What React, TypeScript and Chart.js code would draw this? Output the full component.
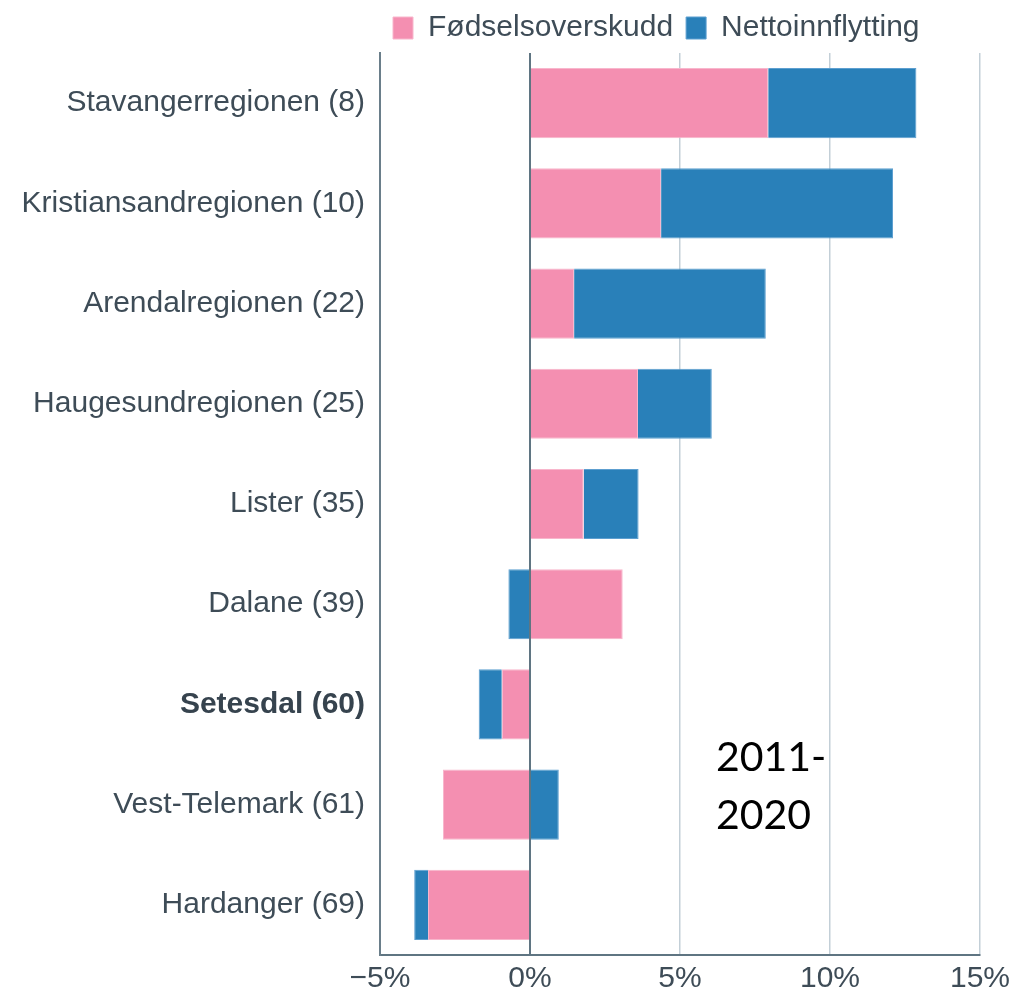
import React, { useEffect, useRef } from 'react';
import { Chart, registerables } from 'chart.js';

Chart.register(...registerables);

const categories = [
  'Stavangerregionen (8)',
  'Kristiansandregionen (10)',
  'Arendalregionen (22)',
  'Haugesundregionen (25)',
  'Lister (35)',
  'Dalane (39)',
  'Setesdal (60)',
  'Vest-Telemark (61)',
  'Hardanger (69)',
];
const fodselsoverskudd = [7.94, 4.37, 1.47, 3.6, 1.79, 3.09, -0.94, -2.9, -3.4];
const nettoinnflytting = [4.94, 7.73, 6.39, 2.46, 1.83, -0.72, -0.77, 0.96, -0.46];
const seriesNames = ['Fødselsoverskudd', 'Nettoinnflytting'];
const xTickValues = [-5, 0, 5, 10, 15];
const highlightedCategory = 'Setesdal (60)';
const annotationLines = ['2011-', '2020'];
const annotationX = 6.2;
const annotationY = [6.66, 7.24];

const PINK = '#F48FB1';
const BLUE = '#2980B9';
const TEXT = '#3e4c57';
const FONT = '"Liberation Sans", Arial, sans-serif';

const zeroLineAndAnnotation = {
  id: 'zeroLineAndAnnotation',
  afterDatasetsDraw(chart: any) {
    const { ctx, chartArea, scales } = chart;
    const x = scales.x;
    const y = scales.y;
    const zx = x.getPixelForValue(0);
    ctx.save();
    ctx.strokeStyle = '#5f7582';
    ctx.lineWidth = 2;
    ctx.beginPath();
    ctx.moveTo(zx, chartArea.top);
    ctx.lineTo(zx, chartArea.bottom);
    ctx.stroke();

    ctx.fillStyle = '#000';
    ctx.font = '41px Lato, "Open Sans", sans-serif';
    ctx.textAlign = 'left';
    ctx.textBaseline = 'alphabetic';
    const ax = x.getPixelForValue(annotationX);
    annotationLines.forEach((line, i) => {
      ctx.fillText(line, ax, y.getPixelForValue(annotationY[i]));
    });
    ctx.restore();
  },
};

export default function App() {
  const canvasRef = useRef<HTMLCanvasElement | null>(null);

  useEffect(() => {
    if (!canvasRef.current) return;
    Chart.defaults.font.family = FONT;
    const chart = new Chart(canvasRef.current, {
      type: 'bar',
      data: {
        labels: categories,
        datasets: [
          {
            label: seriesNames[0],
            data: fodselsoverskudd,
            backgroundColor: PINK,
            borderColor: '#f8b6cc',
            borderWidth: 1,
            barPercentage: 0.7,
            categoryPercentage: 1,
          },
          {
            label: seriesNames[1],
            data: nettoinnflytting,
            backgroundColor: BLUE,
            borderColor: '#5d9fd0',
            borderWidth: 1,
            barPercentage: 0.7,
            categoryPercentage: 1,
          },
        ],
      },
      options: {
        indexAxis: 'y',
        animation: false,
        responsive: true,
        maintainAspectRatio: false,
        layout: { padding: { left: 0, right: 37, top: 0, bottom: 0 } },
        plugins: {
          tooltip: { enabled: false },
          legend: {
            display: true,
            position: 'top',
            align: 'start',
            fullSize: false,
            labels: {
              boxWidth: 20,
              boxHeight: 22,
              padding: 13,
              color: TEXT,
              font: { size: 30, family: FONT },
            },
          },
        },
        scales: {
          x: {
            stacked: true,
            min: -5,
            max: 15,
            afterBuildTicks: (scale: any) => {
              scale.ticks = xTickValues.map((v) => ({ value: v }));
            },
            afterFit: (scale: any) => {
              scale.height = 39;
            },
            ticks: {
              color: TEXT,
              font: { size: 30, family: FONT },
              padding: 6,
              maxRotation: 0,
              callback: (v: any) => (Number(v) < 0 ? '\u2212' : '') + Math.abs(Number(v)) + '%',
            },
            grid: {
              drawTicks: false,
              color: (ctx: any) => {
                const v = ctx.tick ? ctx.tick.value : null;
                if (v === -5) return 'rgba(0,0,0,0)';
                if (v === 0) return '#5f7582';
                return '#c3cfd7';
              },
              lineWidth: (ctx: any) => (ctx.tick && ctx.tick.value === 0 ? 2 : 1.5),
            },
            border: { display: true, color: '#5f7582', width: 2 },
          },
          y: {
            stacked: true,
            afterFit: (scale: any) => {
              scale.width = 380;
            },
            ticks: {
              padding: 15,
              color: (ctx: any) => (categories[ctx.index] === highlightedCategory ? '#36434e' : TEXT),
              font: (ctx: any) => ({
                size: 30,
                family: FONT,
                weight: categories[ctx.index] === highlightedCategory ? 'bold' : 'normal',
              }),
            },
            grid: { display: false, drawTicks: false },
            border: { display: true, color: '#6a7e8a', width: 2 },
          },
        },
      },
      plugins: [zeroLineAndAnnotation],
    });
    return () => chart.destroy();
  }, []);

  return (
    <div style={{ position: 'fixed', left: 0, top: 0, width: 1017, height: 994, background: '#fff' }}>
      <canvas ref={canvasRef} />
    </div>
  );
}
